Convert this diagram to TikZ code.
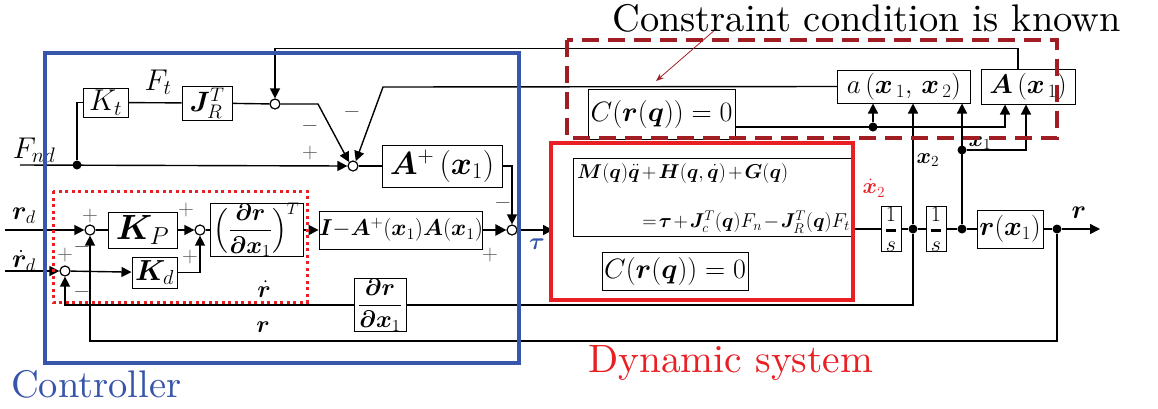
\RequirePackage{fix-cm}
\documentclass[tikz,border=0pt]{standalone}
\usepackage{amsmath,bm}
\usetikzlibrary{arrows.meta,calc}
\newcommand{\fsz}[1]{\fontsize{#1}{#1}\selectfont}
\font\bigrm="[lmroman10-regular]" at 38.5pt
\font\bigrmb="[lmroman10-regular]" at 39.5pt
\definecolor{ctrlblue}{RGB}{55,85,170}
\definecolor{dynred}{RGB}{232,32,36}
\definecolor{cstred}{RGB}{160,30,35}
\definecolor{sgngray}{RGB}{90,90,90}
\begin{document}
\begin{tikzpicture}[x=1pt,y=-1pt,
  ln/.style={line width=1.4pt},
  arr/.style={line width=1.4pt,-{Triangle[length=10pt,width=10pt]}},
  blk/.style={draw,line width=1pt,fill=white,inner sep=0pt,align=center},
  sumc/.style={circle,draw,line width=1.2pt,fill=white,minimum size=10pt,inner sep=0pt},
  jdot/.style={circle,fill=black,minimum size=9pt,inner sep=0pt},
  sgn/.style={text=sgngray,font=\fsz{22},inner sep=0pt},
  lbl/.style={inner sep=0pt}]
\useasboundingbox (0,0) rectangle (1158,408);

% blocks
\node[blk,minimum width=45pt,minimum height=29pt,font=\fsz{30}] (Kt) at (105.5,102.5) {$K_t$};
\node[blk,minimum width=50pt,minimum height=34pt,font=\fsz{28}] (JRT) at (207,103) {$\bm{J}_R^T$};
\node[sumc] (s1) at (275,104) {};
\node[sumc] (sA) at (353,166) {};
\node[blk,minimum width=120pt,minimum height=42pt,font=\fsz{32}] (Ap) at (442,166) {$\bm{A}^{+}\,(\bm{x}_{1})$};
\node[blk,minimum width=158pt,minimum height=38pt,font=\fsz{23}] (IA) at (401,230) {$\bm{I}{-}\bm{A}^{+}(\bm{x}_1)\bm{A}(\bm{x}_1)$};
\node[sumc] (sT) at (512,230) {};
\node[sumc] (c1) at (90,230) {};
\node[sumc] (c2) at (65,271) {};
\node[sumc] (c3) at (200,230) {};
\node[blk,minimum width=69pt,minimum height=36pt,font=\fsz{35}] (KP) at (142.5,230) {$\bm{K}_{P}$};
\node[blk,minimum width=45pt,minimum height=31pt,font=\fsz{29}] (Kd) at (154.5,272.5) {$\bm{K}_{d}$};
\node[blk,minimum width=93pt,minimum height=50pt,font=\fsz{24}] (drT) at (256.5,230) {$\Bigl(\dfrac{\bm{\partial r}}{\bm{\partial x}_1}\Bigr)^{T}$};
\node[blk,minimum width=52pt,minimum height=49pt,font=\fsz{24}] (drx) at (380,305) {$\dfrac{\bm{\partial r}}{\bm{\partial x}_1}$};

\node[draw,line width=1pt,minimum width=278pt,minimum height=78pt,inner sep=0pt] (Dyn) at (712,197) {};
\node[lbl,anchor=west,font=\fsz{20}] (eq1) at (577,173) {\medmuskip=2mu $\bm{M}(\bm{q})\ddot{\bm{q}}+\bm{H}(\bm{q},\dot{\bm{q}})+\bm{G}(\bm{q})$};
\node[lbl,anchor=east,font=\fsz{20}] (eq2) at (850,222) {\medmuskip=1.5mu\thickmuskip=2mu $=\bm{\tau}+\bm{J}_c^T(\bm{q})F_n-\bm{J}_R^T(\bm{q})F_t$};
\node[blk,minimum width=146pt,minimum height=38pt,font=\fsz{28}] (Cd) at (675,271) {$C(\bm{r}(\bm{q}))=0$};
\node[blk,minimum width=147pt,minimum height=50pt,font=\fsz{28}] (Cc) at (661.5,114) {$C(\bm{r}(\bm{q}))=0$};
\node[blk,minimum width=133pt,minimum height=33pt,font=\fsz{27}] (ab) at (904,86.5) {$a\,(\bm{x}_{\,1},\,\bm{x}_{\,2})$};
\node[blk,minimum width=94pt,minimum height=35pt,font=\fsz{27}] (Ab) at (1028,86.5) {$\bm{A}\,(\bm{x}_{\,1})$};
\node[blk,minimum width=20pt,minimum height=44pt,font=\fsz{22}] (i1) at (891,229) {$\genfrac{}{}{2.5pt}{0}{1}{s}$};
\node[blk,minimum width=20pt,minimum height=44pt,font=\fsz{22}] (i2) at (936,229) {$\genfrac{}{}{2.5pt}{0}{1}{s}$};
\node[blk,minimum width=66pt,minimum height=38pt,font=\fsz{27}] (rx) at (1010,229) {$\bm{r}(\bm{x}_1)$};

% junction dots
\node[jdot] (dF) at (77,165) {};
\node[jdot] (d1) at (913,229) {};
\node[jdot] (d2) at (962,229) {};
\node[jdot] (d3) at (1057,229) {};
\node[jdot] (d4) at (873,127) {};
\node[jdot] (d5) at (962,150) {};

% free ends / bends
\coordinate (Fin) at (20,165);
\coordinate (rdin) at (5,230);
\coordinate (rddin) at (5,271);
\coordinate (tauend) at (553,230);
\coordinate (rout) at (1100,229);
\coordinate (k1) at (318,104);
\coordinate (k2) at (383,87);
\coordinate (noteA) at (716,29);
\coordinate (noteB) at (656,81);

% connectors
\draw[arr] (Fin) -- (sA.west);
\draw[ln] (dF) |- (Kt.west);
\draw[ln] (Kt) -- (JRT);
\draw[ln] (JRT) -- (s1);
\draw[arr] (s1.east) -- (k1) -- (sA.135);
\draw[arr] (ab.west) -- (k2) -- (sA.60);
\draw[ln] (sA) -- (Ap);
\draw[arr] (Ap.east) -| (sT.north);
\draw[line width=2.5pt,-{Triangle[length=11pt,width=11pt]}] (IA) -- (sT);
\draw[arr] (sT) -- (tauend);
\draw[arr] ([xshift=-10pt]Ab.north) -- ++(0,-20) -| (s1.north);
\draw[arr] (rdin) -- (c1);
\draw[arr] (rddin) -- (c2);
\draw[ln] (c1) -- (KP);
\draw[arr] (KP) -- (c3);
\draw[ln] (c3) -- (drT);
\draw[arr] (drT) -- (IA);
\draw[arr] (c2) -- (Kd);
\draw[arr] (Kd.east) -| (c3.south);
\draw[ln] (d1) |- (drx.east);
\draw[arr] (drx.west) -| (c2.south);
\draw[arr] (d3) -- ++(0,112) -| (c1.south);
\draw[ln] (Dyn.east |- d1) -- (i1);
\draw[ln] (i1) -- (d1) -- (i2) -- (d2) -- (rx) -- (d3);
\draw[arr] (d3) -- (rout);
\draw[arr] (d1) -- (d1 |- ab.south);
\draw[arr] (d2) -- (d2 |- ab.south);
\draw[arr] (d5) -| ([xshift=-2pt]Ab.south);
\draw[arr] (Cc.east |- d4) -| ([xshift=-23pt]Ab.south);
\draw[arr] (d4) -- (d4 |- ab.south);
\draw[cstred,line width=0.8pt,-{Stealth[length=8pt,width=6pt]}] (noteA) -- (noteB);

% labels
\node[lbl,font=\fsz{30}] (Ftl) at (158,82) {$F_t$};
\node[lbl,font=\fsz{30}] (Fndl) at (34,150) {$F_{nd}$};
\node[lbl,font=\fsz{26}] (rdl) at (24,216) {$\bm{r}_d$};
\node[lbl,font=\fsz{26}] (rddl) at (24,261) {$\dot{\bm{r}}_d$};
\node[lbl,font=\fsz{24}] (rdotl) at (264,289) {$\dot{\bm{r}}$};
\node[lbl,font=\fsz{24}] (rl) at (263,327) {$\bm{r}$};
\node[lbl,font=\fsz{24},text=ctrlblue] (taul) at (537,244) {$\bm{\tau}$};
\node[lbl,font=\fsz{26}] (routl) at (1079,213) {$\bm{r}$};
\node[lbl,font=\fsz{22}] (x2l) at (928,160) {$\bm{x}_2$};
\node[lbl,font=\fsz{22}] (x1l) at (980,143) {$\bm{x}_1$};
\node[lbl,font=\fsz{22},text=dynred] (x2dl) at (874,188) {$\dot{\bm{x}}_2$};

% signs
\node[sgn] (g1) at (310,126) {$-$};
\node[sgn] (g2) at (310,153) {$+$};
\node[sgn] (g3) at (352,112) {$-$};
\node[sgn] (g4) at (503,203) {$-$};
\node[sgn] (g5) at (490,255) {$+$};
\node[sgn] (g6) at (90,216) {$+$};
\node[sgn] (g7) at (82,247) {$-$};
\node[sgn] (g8) at (65,255) {$+$};
\node[sgn] (g9) at (82,292) {$-$};
\node[sgn] (g10) at (186,210) {$+$};
\node[sgn] (g11) at (190,257) {$+$};

% titles
\node[lbl,anchor=base west,font=\bigrm] (ttl) at (612,31) {Constraint condition is known};
\node[lbl,anchor=base west,font=\bigrm,text=ctrlblue] (ctl) at (11,397) {Controller};
\node[lbl,anchor=base west,font=\bigrmb,text=dynred] (dsl) at (588,372) {Dynamic system};

% frames
\draw[ctrlblue,line width=3.5pt] (45,53) rectangle (519,363);
\draw[dynred,line width=4pt] (551,143) rectangle (853,300);
\draw[cstred,line width=4pt,dash pattern=on 17pt off 9pt] (567,40) rectangle (1057,138);
\draw[dynred,line width=3pt,dash pattern=on 3pt off 3.5pt] (53,191) rectangle (307,302);
\end{tikzpicture}
\end{document}
